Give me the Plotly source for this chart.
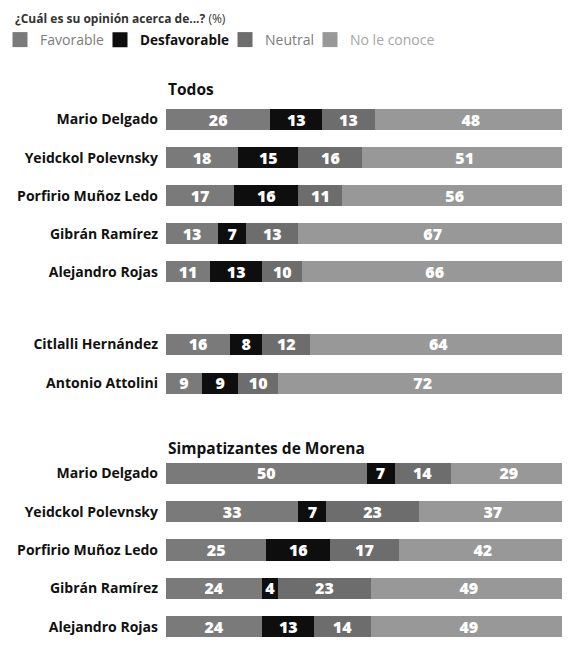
import plotly.graph_objects as go

# ---- data ----
series = ["Favorable", "Desfavorable", "Neutral", "No le conoce"]

todos_names = ["Mario Delgado", "Yeidckol Polevnsky", "Porfirio Muñoz Ledo",
               "Gibrán Ramírez", "Alejandro Rojas"]
todos_fav = [26, 18, 17, 13, 11]
todos_des = [13, 15, 16, 7, 13]
todos_neu = [13, 16, 11, 13, 10]
todos_nc = [48, 51, 56, 67, 66]

otros_names = ["Citlalli Hernández", "Antonio Attolini"]
otros_fav = [16, 9]
otros_des = [8, 9]
otros_neu = [12, 10]
otros_nc = [64, 72]

simp_names = ["Mario Delgado", "Yeidckol Polevnsky", "Porfirio Muñoz Ledo",
              "Gibrán Ramírez", "Alejandro Rojas"]
simp_fav = [50, 33, 25, 24, 24]
simp_des = [7, 7, 16, 4, 13]
simp_neu = [14, 23, 17, 23, 14]
simp_nc = [29, 37, 42, 49, 49]

title_text = "<b>¿Cuál es su opinión acerca de...?</b> (%)"
section_titles = ["Todos", "Simpatizantes de Morena"]

# ---- style / layout (window pixel coordinates; page body adds 8px offset) ----
OFF = 8
W, H = 570 - OFF, 654 - OFF
colors = ["#7a7a7a", "#0e0e0e", "#6d6d6d", "#989898"]
legend_colors = ["#7c7c7c", "#111111", "#7c7c7c", "#a6a6a6"]
legend_bold = [False, True, False, False]
legend_size = [14, 13.5, 14, 14]
legend_text_x = [38, 138, 263, 348]   # window px where each legend text begins
legend_y = 40
FONT = "Open Sans"

groups = [
    (todos_names, [todos_fav, todos_des, todos_neu, todos_nc]),
    (otros_names, [otros_fav, otros_des, otros_neu, otros_nc]),
    (simp_names, [simp_fav, simp_des, simp_neu, simp_nc]),
]
blocks_px = [(100.5, 291.0), (325.0, 403.0), (454.0, 646.0)]
x_px = (166, 567)
section_y_px = [89, 448]


def fx(px):
    return (px - OFF) / W


def fy(py):
    return 1 - (py - OFF) / H


fig = go.Figure()
for gi, (names, vals) in enumerate(groups):
    suffix = "" if gi == 0 else str(gi + 1)
    for si, s in enumerate(series):
        fig.add_trace(go.Bar(
            x=vals[si], y=names, orientation="h",
            name=s, legendgroup=s, showlegend=False,
            marker=dict(color=colors[si], line=dict(width=0)),
            text=vals[si], texttemplate="%{text}",
            textposition="inside", insidetextanchor="middle", textangle=0,
            textfont=dict(color="white", size=16, family=FONT, weight=800),
            xaxis="x" + suffix, yaxis="y" + suffix,
            hoverinfo="skip",
        ))

# legend entries (one legend per item so each can be placed and styled like the original)
for si, s in enumerate(series):
    lg = "legend" if si == 0 else f"legend{si + 1}"
    fig.add_trace(go.Scatter(
        x=[None], y=[None], mode="markers", name=s, legendgroup=s,
        legend=lg, showlegend=True,
        marker=dict(symbol="square", size=15, color=colors[si]),
        hoverinfo="skip",
    ))

layout = dict(
    width=W, height=H,
    margin=dict(l=0, r=0, t=0, b=0, autoexpand=False),
    paper_bgcolor="white", plot_bgcolor="white",
    barmode="stack", bargap=0.45,
    font=dict(family=FONT, color="#111"),
    uniformtext=dict(minsize=16, mode="show"),
    showlegend=True,
)
for si, s in enumerate(series):
    key = "legend" if si == 0 else f"legend{si + 1}"
    layout[key] = dict(
        orientation="h", x=(legend_text_x[si] - 46) / W,
        xanchor="left", y=fy(legend_y), yanchor="middle",
        font=dict(size=legend_size[si], family=FONT, color=legend_colors[si],
                  weight=700 if legend_bold[si] else 400),
        itemsizing="trace", itemwidth=30, bgcolor="rgba(0,0,0,0)",
        borderwidth=0,
    )

for gi, (top, bot) in enumerate(blocks_px):
    suffix = "" if gi == 0 else str(gi + 1)
    layout["xaxis" + suffix] = dict(
        domain=[fx(x_px[0]), min(1, fx(x_px[1]))], range=[0, 100],
        anchor="y" + suffix, visible=False, fixedrange=True)
    layout["yaxis" + suffix] = dict(
        domain=[max(0, fy(bot)), fy(top)], anchor="x" + suffix,
        autorange="reversed", type="category", automargin=False,
        showgrid=False, zeroline=False, showline=False, ticks="",
        ticklabelstandoff=7,
        tickfont=dict(size=14, color="#111", family=FONT, weight=700))
fig.update_layout(**layout)

fig.add_annotation(text=title_text, xref="paper", yref="paper", x=fx(13), y=1.0,
                   xanchor="left", yanchor="top", showarrow=False,
                   font=dict(size=12, color="#333", family=FONT))
for txt, ypx in zip(section_titles, section_y_px):
    fig.add_annotation(text=f"<b>{txt}</b>", xref="paper", yref="paper",
                       x=fx(x_px[0]), y=fy(ypx), xanchor="left", yanchor="middle",
                       showarrow=False, font=dict(size=15.5, color="#111", family=FONT))

fig.write_html("out.html", config={"displayModeBar": False})
